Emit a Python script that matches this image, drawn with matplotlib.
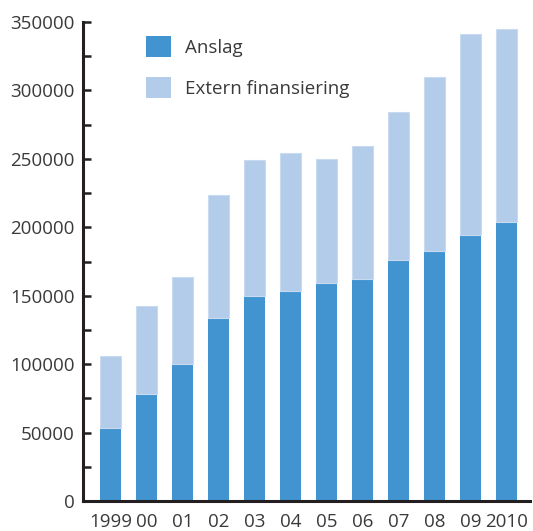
import matplotlib
matplotlib.use("Agg")
import matplotlib.pyplot as plt
from matplotlib.patches import Patch
import numpy as np

years = ["1999", "00", "01", "02", "03", "04", "05", "06", "07", "08", "09", "2010"]
anslag = [53000, 78000, 100000, 134000, 150000, 153500, 159000, 162500, 176000, 183000, 194000, 204000]
totals = [106000, 142500, 164000, 223500, 249000, 254000, 250000, 259500, 284500, 309500, 341500, 345000]
extern = [t - a for t, a in zip(totals, anslag)]
yticks = [0, 50000, 100000, 150000, 200000, 250000, 300000, 350000]

dark = "#4194d0"
light = "#b3cce9"
ink = "#231f20"
txt = "#3a3a3a"

plt.rcParams['font.family'] = ['Open Sans', 'DejaVu Sans']

fig = plt.figure(figsize=(5.33, 5.31), dpi=100)
ax = fig.add_axes([83/533, 30/531, 447/533, 479/531])

x = np.arange(len(years))
w = 0.58
ax.bar(x, anslag, width=w, color=dark, edgecolor='none')
ax.bar(x, extern, width=w, bottom=anslag, color=light, edgecolor='#c9dbf0', linewidth=0.8)

ax.set_xlim(-0.764, 11.653)
ax.set_ylim(0, 350000)
ax.set_yticks(yticks)
ax.set_yticklabels([str(v) for v in yticks])
ax.set_yticks(np.arange(25000, 350000, 50000), minor=True)
ax.set_xticks(x)
ax.set_xticklabels(years)

for s in ['top', 'right']:
    ax.spines[s].set_visible(False)
for s in ['left', 'bottom']:
    ax.spines[s].set_color(ink)
    ax.spines[s].set_linewidth(2.2)

ax.tick_params(axis='y', which='both', direction='in', length=6, width=1.8, color=ink,
               labelsize=13.5, labelcolor=txt, pad=6)
ax.tick_params(axis='x', length=0, labelsize=13.5, labelcolor=txt, pad=8.5)

handles = [Patch(facecolor=dark, edgecolor='none'), Patch(facecolor=light, edgecolor='none')]
ax.legend(handles, ["Anslag", "Extern finansiering"], loc='upper left',
          bbox_to_anchor=(146/533, 1 - 36/531), bbox_transform=fig.transFigure,
          frameon=False, fontsize=13.5, handlelength=1.33, handleheight=1.33,
          handletextpad=0.75, labelspacing=1.07, borderpad=0, borderaxespad=0,
          labelcolor=txt)

fig.savefig("out.png", dpi=100)
